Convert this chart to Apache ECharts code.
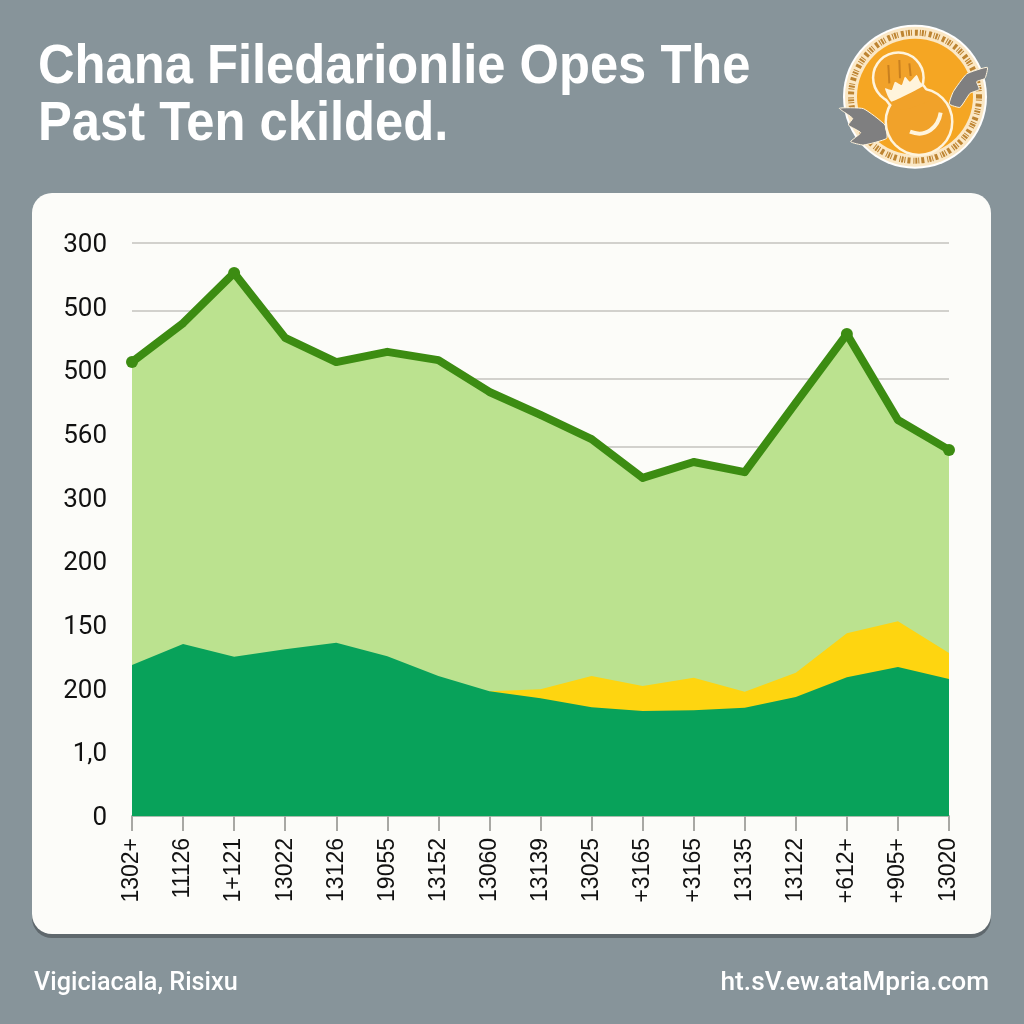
<!DOCTYPE html>
<html><head><meta charset="utf-8">
<style>html,body{margin:0;padding:0;background:#87949a}#c{width:1024px;height:1024px}</style>
<script src="https://cdn.jsdelivr.net/npm/echarts@6/dist/echarts.min.js"></script>
</head><body><div id="c"></div>
<script>
const titleLines = 'Chana Filedarionlie Opes The\nPast Ten ckilded.';
const footerLeft = 'Vigiciacala, Risixu';
const footerRight = 'ht.sV.ew.ataMpria.com';
const categories = ['1302+','11126','1+121','13022','13126','19055','13152','13060','13139','13025','+3165','+3165','13135','13122','+612+','+905+','13020'];
const yTickLabels = ['0','1,0','200','150','200','300','560','500','500','300'];
const upperValues = [713,774,853,751,713,729,716,666,630,592,531,556,540,649,757,622,575];
const yellowValues = [null,null,null,null,null,null,null,196,199,220,204,217,195,225,287,306,256];
const lowerValues = [237,270,250,262,272,251,220,196,185,171,165,166,170,187,218,234,215];

const P = (x,y)=>[820+x/3, 10+y/3];
const poly = (pts,style,z)=>({type:'polygon',z:z,shape:{points:pts.map(p=>P(p[0],p[1])),smooth:0.15},style});
const circ = (x,y,r,style,z)=>({type:'circle',z:z,shape:{cx:820+x/3,cy:10+y/3,r:r},style});
const cream = '#fff4dc', amber = '#f1a22a';
const neck = [[178,232],[215,262],[300,222],[330,270],[250,300],[215,285]];

const logo = [
  circ(285,260,72,{fill:'#ffffff'},1),
  circ(285,260,70,{fill:'#fbe8c6'},1),
  circ(285,260,64,{fill:'none',stroke:'#bd8432',lineWidth:6,lineDash:[2,1,1,3,3,2,1,1]},1),
  circ(285,260,58,{fill:'#f5a623'},1),
  poly([[502,172],[495,205],[470,215],[478,238],[450,250],[420,292],[388,282],[400,245],[440,192]],{fill:'#7f7f80',stroke:cream,lineWidth:1},2),
  poly([[58,295],[130,296],[195,345],[200,385],[130,405],[92,395],[122,368],[85,345],[98,325]],{fill:'#7f7f80',stroke:cream,lineWidth:1},2),
  circ(297,335,32,{fill:cream,stroke:cream,lineWidth:5},3),
  circ(235,203,24,{fill:cream,stroke:cream,lineWidth:5},3),
  poly(neck,{fill:cream,stroke:cream,lineWidth:5},3),
  circ(297,335,32,{fill:amber},4),
  circ(235,203,24,{fill:amber},4),
  poly(neck,{fill:amber},4),
  poly([[195,235],[215,240],[225,215],[245,225],[255,200],[270,215],[290,195],[300,215],[310,228],[215,275],[205,262]],{fill:cream},5),
  {type:'line',z:5,shape:{x1:820+205/3,y1:10+165/3,x2:820+208/3,y2:10+220/3},style:{stroke:'#c9801f',lineWidth:2}},
  {type:'line',z:5,shape:{x1:820+238/3,y1:10+150/3,x2:820+240/3,y2:10+205/3},style:{stroke:'#c9801f',lineWidth:2}},
  {type:'line',z:5,shape:{x1:820+268/3,y1:10+160/3,x2:820+272/3,y2:10+198/3},style:{stroke:'#c9801f',lineWidth:2}},
  {type:'bezierCurve',z:5,shape:{x1:820+270/3,y1:10+365/3,cpx1:820+320/3,cpy1:10+385/3,cpx2:820+355/3,cpy2:10+350/3,x2:820+362/3,y2:10+308/3},style:{stroke:cream,lineWidth:4,fill:'none'}}
];

const chart = echarts.init(document.getElementById('c'), null, {renderer:'canvas', width:1024, height:1024});
chart.setOption({
  animation:false,
  backgroundColor:'#87949a',
  graphic:[
    {type:'rect',z:-20,shape:{x:32,y:197,width:959,height:741,r:20},style:{fill:'#5f686d'}},
    {type:'rect',z:-19,shape:{x:32,y:193,width:959,height:741,r:20},style:{fill:'#fcfcf9'}},
    {type:'text',z:6,x:38,y:39,scaleX:0.905,style:{text:titleLines,fill:'#ffffff',font:'bold 56px "Liberation Sans", Arial, sans-serif',lineHeight:57}},
    {type:'text',z:6,x:34,y:970,scaleX:0.97,style:{text:footerLeft,fill:'#ffffff',font:'500 26px Roboto, sans-serif'}},
    {type:'text',z:6,x:989,y:970,scaleX:1.01,style:{text:footerRight,fill:'#ffffff',align:'right',font:'500 26px Roboto, sans-serif'}},
    ...logo
  ],
  grid:{left:132,right:75,top:243,bottom:208,containLabel:false},
  xAxis:{
    type:'category',boundaryGap:false,data:categories,
    axisLine:{lineStyle:{color:'#a9bcae',width:2}},
    axisTick:{alignWithLabel:true,length:15,lineStyle:{color:'#a8a8a4',width:2}},
    axisLabel:{interval:0,rotate:90,margin:22,color:'#111111',fontSize:23,fontFamily:'"Liberation Sans", Arial, sans-serif'}
  },
  yAxis:[
    {type:'value',min:0,max:900,interval:100,
      axisLine:{show:false},axisTick:{show:false},splitLine:{show:false},
      axisLabel:{margin:25,
        formatter:(v)=>'{t|'+yTickLabels[Math.round(v/100)]+'}',
        rich:{t:{padding:[5,0,0,0],color:'#111111',fontSize:26,fontFamily:'Roboto, sans-serif'}}}},
    {type:'value',inverse:true,min:0,max:573,interval:68,position:'left',
      axisLine:{show:false},axisTick:{show:false},axisLabel:{show:false},
      splitLine:{show:true,lineStyle:{color:'#d2d1cd',width:2}}}
  ],
  series:[
    {type:'line',name:'upper',data:upperValues,z:2,
      showSymbol:true,showAllSymbol:true,symbol:'circle',
      symbolSize:(v,p)=>[0,2,14,16].includes(p.dataIndex)?12:7,
      itemStyle:{color:'#3c8c12'},
      lineStyle:{color:'#3c8c12',width:8,join:'round'},
      areaStyle:{color:'#bbe28f',opacity:1}},
    {type:'line',name:'yellow',data:yellowValues,z:3,showSymbol:false,
      lineStyle:{width:0},areaStyle:{color:'#fed510',opacity:1}},
    {type:'line',name:'lower',data:lowerValues,z:4,showSymbol:false,
      lineStyle:{width:0},areaStyle:{color:'#08a25a',opacity:1}}
  ]
});
</script></body></html>
